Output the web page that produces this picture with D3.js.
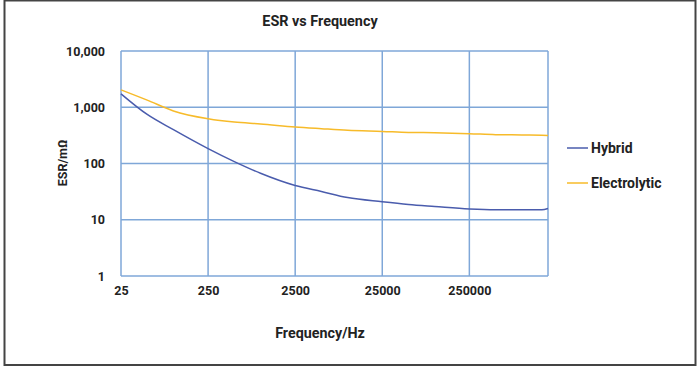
<!DOCTYPE html>
<html>
<head>
<meta charset="utf-8">
<script src="https://cdn.jsdelivr.net/npm/d3@7"></script>
<style>
  body { margin: 0; background: #fff; }
  text { font-family: Roboto, "Open Sans", sans-serif; font-weight: bold; fill: #222; }
</style>
</head>
<body>
<div id="chart"></div>
<script>
// frequency points (Hz) and ESR readings (mOhm)
const freqs = [25, 50, 100, 250, 500, 1000, 2500, 5000, 10000, 25000, 50000, 100000, 250000, 500000, 1000000, 1700000, 2000000];
const hybrid = [1735, 745, 400, 184, 108, 67, 40.6, 31.8, 24.8, 20.9, 18.7, 17.2, 15.5, 15.0, 15.0, 15.0, 15.9];
const electrolytic = [2040, 1340, 860, 625, 545, 505, 446, 416, 390, 372, 357, 352, 339, 326, 322, 318, 316];

const xTicks = [25, 250, 2500, 25000, 250000];
const yTicks = [1, 10, 100, 1000, 10000];

const seriesNames = ["Hybrid", "Electrolytic"];
const seriesColors = ["#4a5cad", "#f7bb2a"];

const width = 700,
      height = 369,
      margin = ({ top: 51, right: 152, bottom: 93, left: 121 });

let svg = d3.select("#chart")
    .append("svg")
    .attr("width", width)
    .attr("height", height);

// outer frame
svg.append("rect")
    .attr("x", 4.5)
    .attr("y", 0.5)
    .attr("width", 691)
    .attr("height", 364.5)
    .attr("fill", "none")
    .attr("stroke", "#444")
    .attr("stroke-width", 2);

let x = d3.scaleLog()
    .domain([25, 2000000])
    .range([margin.left, width - margin.right]);

let y = d3.scaleLog()
    .domain([1, 10000])
    .range([height - margin.bottom, margin.top]);

// grid lines
let grid = svg.append("g")
    .attr("stroke", "#7fa7d8")
    .attr("stroke-width", 1.5);

grid.selectAll(".hline")
    .data(yTicks)
    .join("line")
    .attr("x1", x(25))
    .attr("x2", x(2000000))
    .attr("y1", d => y(d))
    .attr("y2", d => y(d));

grid.selectAll(".vline")
    .data(xTicks.concat([2000000]))
    .join("line")
    .attr("x1", d => x(d))
    .attr("x2", d => x(d))
    .attr("y1", y(1))
    .attr("y2", y(10000));

// axes (labels only)
let xAxis = svg.append("g")
    .attr("transform", `translate(0,${y(1) + 7})`)
    .call(d3.axisBottom(x).tickValues(xTicks).tickFormat(d3.format("d")).tickSize(0));
xAxis.select(".domain").remove();
xAxis.selectAll("text").attr("font-size", 12.5).attr("font-family", null).attr("font-weight", null);

let yAxis = svg.append("g")
    .attr("transform", `translate(${x(25) - 13},0)`)
    .call(d3.axisLeft(y).tickValues(yTicks).tickFormat(d3.format(",")).tickSize(0));
yAxis.select(".domain").remove();
yAxis.selectAll("text").attr("font-size", 12.5).attr("font-family", null).attr("font-weight", null);

// lines
let line = d3.line()
    .curve(d3.curveMonotoneX)
    .x(d => x(d[0]))
    .y(d => y(d[1]));

[hybrid, electrolytic].forEach((vals, i) => {
    svg.append("path")
        .datum(freqs.map((f, j) => [f, vals[j]]))
        .attr("fill", "none")
        .attr("stroke", seriesColors[i])
        .attr("stroke-width", 1.5)
        .attr("d", line);
});

// title + axis labels
svg.append("text")
    .text("ESR vs Frequency")
    .attr("x", 320)
    .attr("y", 26)
    .attr("text-anchor", "middle")
    .attr("font-size", 14.4);

svg.append("text")
    .text("Frequency/Hz")
    .attr("x", 320)
    .attr("y", 338)
    .attr("text-anchor", "middle")
    .attr("font-size", 14.3);

svg.append("text")
    .text("ESR/mΩ")
    .attr("transform", "translate(67,163) rotate(-90)")
    .attr("text-anchor", "middle")
    .attr("font-size", 12.5);

// legend
let legend = svg.selectAll(".legend")
    .data(seriesNames)
    .join("g")
    .attr("transform", (d, i) => `translate(567,${148 + i * 35})`);

legend.append("line")
    .attr("x1", 0)
    .attr("x2", 21)
    .attr("stroke", (d, i) => seriesColors[i])
    .attr("stroke-width", 1.5);

legend.append("text")
    .text(d => d)
    .attr("x", 24)
    .attr("dy", "0.35em")
    .attr("font-size", 14);
</script>
</body>
</html>
